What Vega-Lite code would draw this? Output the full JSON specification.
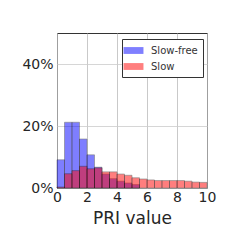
{
  "$schema": "https://vega.github.io/schema/vega-lite/v6.json",
  "autosize": "none",
  "width": 150,
  "height": 155,
  "padding": {"left": 57, "top": 33, "right": 33, "bottom": 52},
  "background": "white",
  "config": {
    "view": {"stroke": "#333333", "strokeWidth": 1},
    "font": "DejaVu Sans"
  },
  "data": {
    "values": [
      {"start": 0.0, "end": 0.5, "series": "Slow-free", "pct": 0.091},
      {"start": 0.5, "end": 1.0, "series": "Slow-free", "pct": 0.212},
      {"start": 1.0, "end": 1.5, "series": "Slow-free", "pct": 0.212},
      {"start": 1.5, "end": 2.0, "series": "Slow-free", "pct": 0.158},
      {"start": 2.0, "end": 2.5, "series": "Slow-free", "pct": 0.107},
      {"start": 2.5, "end": 3.0, "series": "Slow-free", "pct": 0.067},
      {"start": 3.0, "end": 3.5, "series": "Slow-free", "pct": 0.045},
      {"start": 3.5, "end": 4.0, "series": "Slow-free", "pct": 0.030},
      {"start": 4.0, "end": 4.5, "series": "Slow-free", "pct": 0.022},
      {"start": 4.5, "end": 5.0, "series": "Slow-free", "pct": 0.016},
      {"start": 5.0, "end": 5.5, "series": "Slow-free", "pct": 0.011},
      {"start": 0.0, "end": 0.5, "series": "Slow", "pct": 0.003},
      {"start": 0.5, "end": 1.0, "series": "Slow", "pct": 0.046},
      {"start": 1.0, "end": 1.5, "series": "Slow", "pct": 0.056},
      {"start": 1.5, "end": 2.0, "series": "Slow", "pct": 0.070},
      {"start": 2.0, "end": 2.5, "series": "Slow", "pct": 0.062},
      {"start": 2.5, "end": 3.0, "series": "Slow", "pct": 0.065},
      {"start": 3.0, "end": 3.5, "series": "Slow", "pct": 0.052},
      {"start": 3.5, "end": 4.0, "series": "Slow", "pct": 0.052},
      {"start": 4.0, "end": 4.5, "series": "Slow", "pct": 0.045},
      {"start": 4.5, "end": 5.0, "series": "Slow", "pct": 0.041},
      {"start": 5.0, "end": 5.5, "series": "Slow", "pct": 0.033},
      {"start": 5.5, "end": 6.0, "series": "Slow", "pct": 0.029},
      {"start": 6.0, "end": 6.5, "series": "Slow", "pct": 0.026},
      {"start": 6.5, "end": 7.0, "series": "Slow", "pct": 0.024},
      {"start": 7.0, "end": 7.5, "series": "Slow", "pct": 0.024},
      {"start": 7.5, "end": 8.0, "series": "Slow", "pct": 0.024},
      {"start": 8.0, "end": 8.5, "series": "Slow", "pct": 0.024},
      {"start": 8.5, "end": 9.0, "series": "Slow", "pct": 0.022},
      {"start": 9.0, "end": 9.5, "series": "Slow", "pct": 0.019},
      {"start": 9.5, "end": 10.0, "series": "Slow", "pct": 0.018}
    ]
  },
  "mark": {"type": "rect", "opacity": 0.5, "stroke": "#000000", "strokeWidth": 0.6},
  "encoding": {
    "x": {
      "field": "start", "type": "quantitative",
      "scale": {"domain": [0, 10], "nice": false},
      "axis": {
        "title": "PRI value", "values": [0, 2, 4, 6, 8, 10],
        "grid": true, "gridColor": "#bbbbbb", "gridWidth": 0.8,
        "domain": false, "ticks": false,
        "labelFontSize": 14, "labelColor": "#262626", "labelPadding": 2,
        "labelFlush": false,
        "titleFontSize": 17, "titleFontWeight": "normal", "titleColor": "#262626", "titlePadding": 6
      }
    },
    "x2": {"field": "end"},
    "y": {
      "field": "pct", "type": "quantitative",
      "scale": {"domain": [0, 0.5], "nice": false},
      "axis": {
        "title": null, "values": [0, 0.2, 0.4], "format": ".0%",
        "grid": true, "gridColor": "#cccccc", "gridWidth": 0.8,
        "domain": false, "ticks": false,
        "labelFontSize": 14, "labelColor": "#262626", "labelPadding": 4,
        "labelFlush": false
      }
    },
    "y2": {"datum": 0},
    "color": {
      "field": "series", "type": "nominal",
      "scale": {"domain": ["Slow-free", "Slow"], "range": ["#0000ff", "#ff0000"]},
      "legend": {
        "title": null, "orient": "none", "legendX": 65, "legendY": 6,
        "symbolType": "M-1.6,-0.55L1.6,-0.55L1.6,0.55L-1.6,0.55Z",
        "symbolSize": 155, "symbolOpacity": 0.5, "symbolStrokeWidth": 0,
        "labelFontSize": 10, "labelColor": "#333333", "labelOffset": 11,
        "rowPadding": 4, "padding": 5, "strokeColor": "#333333", "fillColor": "white"
      }
    }
  }
}
